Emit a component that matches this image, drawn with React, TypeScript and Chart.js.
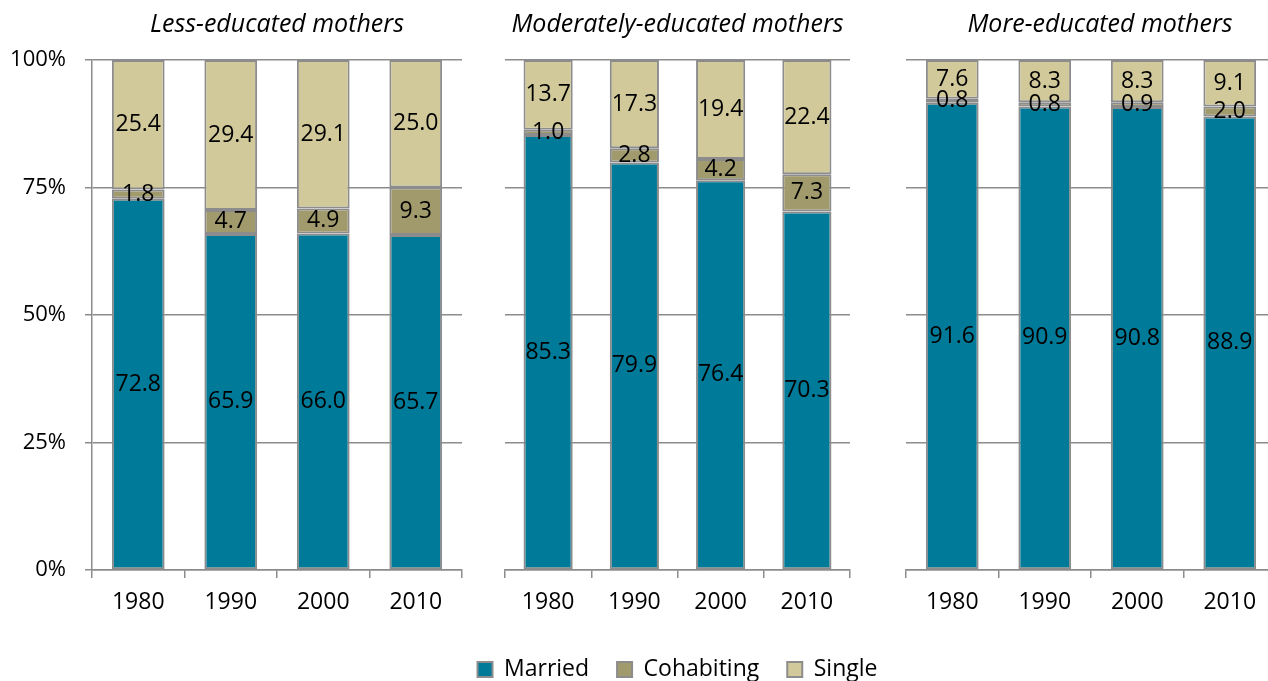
import React, { useEffect, useRef } from 'react';
import { Chart, registerables } from 'chart.js';

Chart.register(...registerables);

const FONT = "'Open Sans', 'DejaVu Sans', sans-serif";

const years = ['1980', '1990', '2000', '2010'];
const panelTitles = ['Less-educated mothers', 'Moderately-educated mothers', 'More-educated mothers'];
const seriesNames = ['Married', 'Cohabiting', 'Single'];
const seriesColors = ['#007A99', '#A19A6C', '#D2C99B'];
const borderGray = '#8C8C8C';

const lessMarried = [72.8, 65.9, 66.0, 65.7];
const lessCohabiting = [1.8, 4.7, 4.9, 9.3];
const lessSingle = [25.4, 29.4, 29.1, 25.0];

const modMarried = [85.3, 79.9, 76.4, 70.3];
const modCohabiting = [1.0, 2.8, 4.2, 7.3];
const modSingle = [13.7, 17.3, 19.4, 22.4];

const moreMarried = [91.6, 90.9, 90.8, 88.9];
const moreCohabiting = [0.8, 0.8, 0.9, 2.0];
const moreSingle = [7.6, 8.3, 8.3, 9.1];

const yMin = 0;
const yMax = 100;
const yStep = 25;

const valueLabels = {
  id: 'valueLabels',
  afterDatasetsDraw(chart: any) {
    const ctx = chart.ctx;
    ctx.save();
    ctx.font = `23px ${FONT}`;
    ctx.fillStyle = '#000';
    ctx.textAlign = 'center';
    ctx.textBaseline = 'middle';
    chart.data.datasets.forEach((ds: any, di: number) => {
      const meta = chart.getDatasetMeta(di);
      if (meta.hidden) return;
      meta.data.forEach((el: any, i: number) => {
        const { x, y, base } = el.getProps(['x', 'y', 'base'], true);
        ctx.fillText(Number(ds.data[i]).toFixed(1), x, (y + base) / 2);
      });
    });
    ctx.restore();
  },
};

type PanelCfg = {
  title: string;
  series: number[][];
  left: number;
  width: number;
  height: number;
  yWidth: number;
  showY: boolean;
  padRight: number;
  padBottom: number;
  xHeight: number;
  legend: boolean;
  titleFull: boolean;
  rightAxis: number;
};

function Panel({ cfg }: { cfg: PanelCfg }) {
  const ref = useRef<HTMLCanvasElement | null>(null);
  useEffect(() => {
    if (!ref.current) return;
    const scales: any = {
      x: {
        stacked: true,
        offset: true,
        grid: {
          display: true,
          drawOnChartArea: false,
          drawTicks: true,
          tickLength: 8,
          color: borderGray,
          lineWidth: 1.5,
          offset: true,
        },
        border: { display: true, color: borderGray, width: 1.5 },
        ticks: { color: '#000', font: { family: FONT, size: 23 }, padding: 11, maxRotation: 0 },
        afterFit: (s: any) => { s.height = cfg.xHeight; },
      },
      y: {
        stacked: true,
        min: yMin,
        max: yMax,
        grid: {
          display: true,
          drawTicks: cfg.showY,
          tickLength: 7,
          color: borderGray,
          lineWidth: 1.5,
        },
        border: { display: cfg.showY, color: borderGray, width: 1.5 },
        ticks: {
          display: cfg.showY,
          stepSize: yStep,
          color: '#000',
          font: { family: FONT, size: 22 },
          padding: 19,
          callback: (v: any) => `${v}%`,
        },
        afterFit: (s: any) => { s.width = cfg.yWidth; },
      },
    };
    if (cfg.rightAxis > 0) {
      scales.y2 = {
        type: 'linear',
        position: 'right',
        display: true,
        grid: { display: false, drawTicks: false },
        border: { display: false },
        ticks: { display: false },
        afterFit: (s: any) => { s.width = cfg.rightAxis; },
      };
    }
    const chart = new Chart(ref.current, {
      type: 'bar',
      data: {
        labels: years,
        datasets: seriesNames.map((name, i) => ({
          label: name,
          data: cfg.series[i],
          backgroundColor: seriesColors[i],
          borderColor: borderGray,
          borderWidth: 2,
          borderSkipped: false,
          barPercentage: 0.57,
          categoryPercentage: 1,
        })),
      },
      options: {
        responsive: false,
        animation: false,
        layout: { padding: { left: 0, right: cfg.padRight, top: 0, bottom: cfg.padBottom } },
        scales,
        plugins: {
          title: {
            display: true,
            text: cfg.title,
            fullSize: cfg.titleFull,
            color: '#000',
            font: { family: FONT, size: 25, style: 'italic', weight: 'normal', lineHeight: 1.2 },
            padding: { top: 10, bottom: 20 },
          },
          legend: {
            display: cfg.legend,
            position: 'bottom',
            labels: {
              color: '#000',
              font: { family: FONT, size: 23 },
              boxWidth: 15,
              boxHeight: 15,
              padding: 28,
            },
          },
          tooltip: { enabled: false },
        },
      } as any,
      plugins: [valueLabels],
    });
    return () => chart.destroy();
  }, [cfg]);
  return (
    <canvas
      ref={ref}
      width={cfg.width}
      height={cfg.height}
      style={{ position: 'absolute', left: cfg.left, top: 0, width: cfg.width, height: cfg.height, display: 'block' }}
    />
  );
}

const panels: PanelCfg[] = [
  {
    title: panelTitles[0],
    series: [lessMarried, lessCohabiting, lessSingle],
    left: 0, width: 475, height: 620, yWidth: 92, showY: true, padRight: 13, padBottom: 0,
    xHeight: 50, legend: false, titleFull: false, rightAxis: 0,
  },
  {
    title: panelTitles[1],
    series: [modMarried, modCohabiting, modSingle],
    left: 400, width: 555, height: 691, yWidth: 105, showY: false, padRight: 0, padBottom: 0,
    xHeight: 60, legend: true, titleFull: false, rightAxis: 105,
  },
  {
    title: panelTitles[2],
    series: [moreMarried, moreCohabiting, moreSingle],
    left: 880, width: 440, height: 620, yWidth: 26, showY: false, padRight: 0, padBottom: 0,
    xHeight: 50, legend: false, titleFull: true, rightAxis: 44,
  },
];

export default function App() {
  return (
    <div
      style={{
        position: 'absolute',
        left: 0,
        top: 0,
        width: 1268,
        height: 681,
        overflow: 'hidden',
        background: '#fff',
      }}
    >
      {panels.map((p, i) => (
        <Panel key={i} cfg={p} />
      ))}
    </div>
  );
}
